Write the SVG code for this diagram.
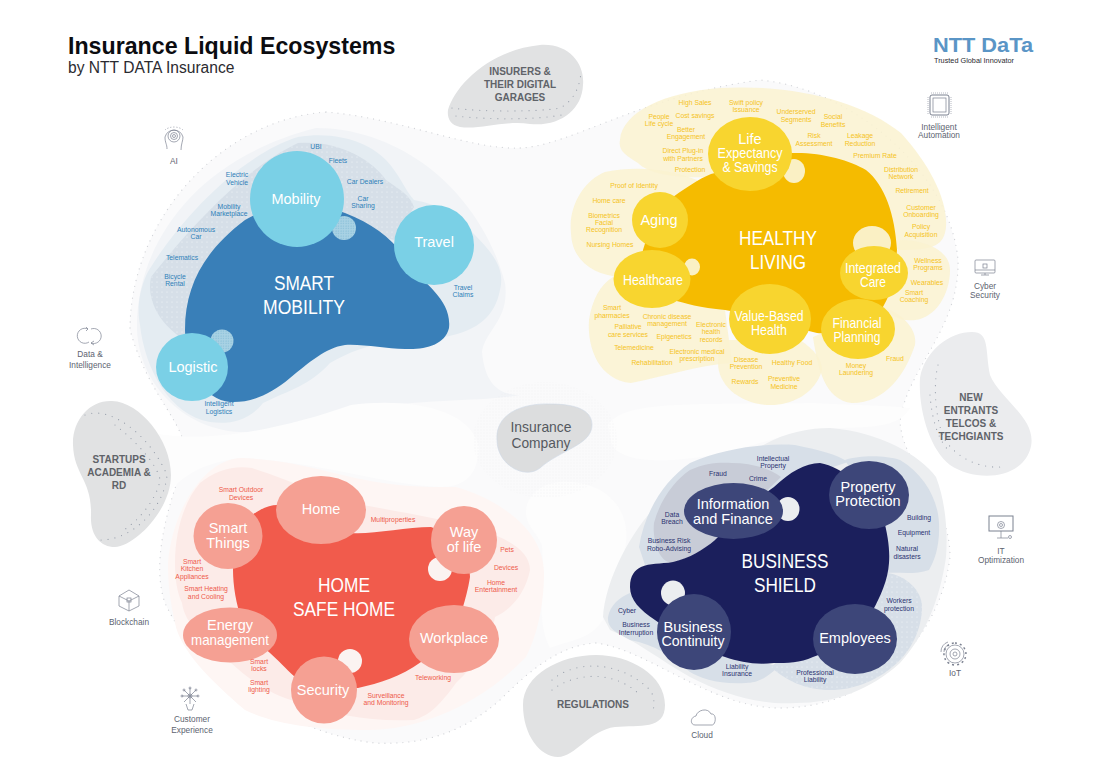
<svg xmlns="http://www.w3.org/2000/svg" width="1100" height="778" viewBox="0 0 1100 778">
<style>
text{font-family:"Liberation Sans",Arial,sans-serif;text-anchor:middle}
.m{font-size:6.8px}
.bl{fill:#2f7fb8}.ye{fill:#f5c323}.re{fill:#ee5a4a}.na{fill:#2b3270}
.c{font-size:14.5px;fill:#fff}
.t{font-size:19.5px;fill:#fff}
.g{font-size:10px;font-weight:bold;fill:#5f6369}
.i{font-size:8.3px;fill:#5d6370}
.ic{fill:none;stroke:#7b8190;stroke-width:.7}
.dots{fill:none;stroke:#9aa1ad;stroke-width:1.2;stroke-linecap:round;stroke-dasharray:0 7}
.bub1{fill:#7ad0e6}.bub2{fill:#f8d52f}.bub3{fill:#f5a093}.bub4{fill:#3d4679}
.hy{fill:#faf2d0;fill-opacity:.85}
</style>
<defs>
<pattern id="pw" width="5" height="5" patternUnits="userSpaceOnUse"><circle cx="2" cy="2" r=".5" fill="#fff" fill-opacity=".8"/></pattern>
<pattern id="pb" width="2.5" height="2.5" patternUnits="userSpaceOnUse"><rect width="2.5" height="2.5" fill="#a9d2e4"/><circle cx="1" cy="1" r=".5" fill="#6fb0cf"/></pattern>
<pattern id="pg" width="3" height="3" patternUnits="userSpaceOnUse"><circle cx="1" cy="1" r=".45" fill="#e2e4e6"/></pattern>
</defs>

<g id="background">
<path fill="#fafafb" d="M326 112C400 118 470 150 520 148C570 146 640 96 760 80C850 88 950 170 958 260C960 330 905 370 900 423C905 470 950 500 950 557C940 640 870 708 780 708C710 708 650 650 596 643C560 645 530 670 500 700C460 735 420 745 375 743C300 735 200 680 165 603C150 560 170 500 186 457C185 420 150 400 130 330C130 220 220 120 326 112Z"/>
<path fill="none" stroke="#d3d5d9" stroke-width="1.3" stroke-linecap="round" stroke-dasharray="0 6" d="M326 112C400 118 470 150 520 148C570 146 640 96 760 80C850 88 950 170 958 260C960 330 905 370 900 423C905 470 950 500 950 557C940 640 870 708 780 708C710 708 650 650 596 643C560 645 530 670 500 700C460 735 420 745 375 743C300 735 200 680 165 603C150 560 170 500 186 457C185 420 150 400 130 330C130 220 220 120 326 112Z"/>
<path fill="#f2f4f7" d="M137 330C135 250 190 160 316 128C400 128 480 190 505 283C510 320 485 330 482 352C485 385 500 395 520 395C480 402 430 398 351 410C310 420 280 433 240 432C190 430 140 390 137 330Z"/>
<path fill="#fdfdfd" d="M150 432C200 445 280 430 351 405C400 398 470 405 479 447C478 475 465 487 440 487C380 484 320 462 242 458C200 462 175 480 165 500Z"/>
<path fill="#fdfdfd" d="M608 425C625 400 690 405 813 403C850 405 880 405 910 408C900 425 880 428 830 428C790 430 745 450 715 455C670 462 625 465 612 445Z"/>
<path fill="#fdfdfd" d="M526 510C530 480 570 475 600 490C625 505 632 530 622 560C612 585 608 600 603 620C590 640 570 640 550 648C535 620 545 580 542 545C535 530 525 525 526 510Z"/>
<ellipse cx="545" cy="440" rx="72" ry="58" fill="url(#pg)"/>
</g>

<g id="smart-mobility">
<path fill="#e4ecf2" d="M140 325C135 300 145 275 151 267C180 220 240 155 298 137C340 130 372 145 386 160C400 175 405 190 414 200C440 205 460 215 473 233C495 255 505 270 500 290C495 315 480 330 445 337C400 340 370 340 330 363C310 385 290 390 263 403C250 420 230 425 210 422C170 415 145 370 140 325Z"/>
<path fill="#d6dfe8" d="M151 277C180 240 240 170 298 143C340 140 372 160 386 180C400 190 410 195 414 207L394 240L300 215L210 265L185 340C160 325 146 300 151 277Z"/>
<path fill="url(#pw)" d="M151 277C180 240 240 170 298 143C340 140 372 160 386 180C400 190 410 195 414 207L394 240L300 215L210 265L185 340C160 325 146 300 151 277Z"/>
<path fill="#397fb8" d="M185 330C185 285 205 250 245 220C280 200 310 200 345 213C375 225 395 240 410 265C425 285 452 300 449 328C445 345 425 350 405 349C385 349 365 344 345 345C325 348 310 362 290 378C270 395 250 403 230 402C205 400 185 370 185 330Z"/>
<circle cx="344" cy="228" r="12" fill="url(#pb)"/>
<circle cx="222" cy="341" r="11.500" fill="url(#pb)"/>
<ellipse class="bub1" cx="297" cy="199" rx="47" ry="48"/>
<circle class="bub1" cx="434" cy="245" r="40"/>
<ellipse class="bub1" cx="192" cy="367" rx="36" ry="34"/>
<text class="c" x="296" y="204">Mobility</text>
<text class="c" x="434" y="247">Travel</text>
<text class="c" x="193" y="372">Logistic</text>
<text class="t" x="304" y="290" textLength="60" lengthAdjust="spacingAndGlyphs">SMART</text>
<text class="t" x="304" y="314" textLength="82" lengthAdjust="spacingAndGlyphs">MOBILITY</text>
<g id="mobility-labels">
<text class="m bl" x="316" y="149">UBI</text>
<text class="m bl" x="338" y="163">Fleets</text>
<text class="m bl" x="237" y="177">Electric</text><text class="m bl" x="237" y="185">Vehicle</text>
<text class="m bl" x="365" y="184">Car Dealers</text>
<text class="m bl" x="363" y="201">Car</text><text class="m bl" x="363" y="208">Sharing</text>
<text class="m bl" x="229" y="209">Mobility</text><text class="m bl" x="229" y="216">Marketplace</text>
<text class="m bl" x="196" y="232">Autonomous</text><text class="m bl" x="196" y="239">Car</text>
<text class="m bl" x="182" y="260">Telematics</text>
<text class="m bl" x="175" y="279">Bicycle</text><text class="m bl" x="175" y="286">Rental</text>
<text class="m bl" x="463" y="290">Travel</text><text class="m bl" x="463" y="297">Claims</text>
<text class="m bl" x="219" y="406">Intelligent</text><text class="m bl" x="219" y="414">Logistics</text>
</g>
</g>

<g id="healthy-living">
<path class="hy" d="M620 140C622 112 665 92 720 88C790 84 860 100 901 133C930 165 948 200 946 227C944 245 935 250 900 250L704 177C680 178 650 175 638 163C625 155 618 150 620 140Z"/>
<path class="hy" d="M571 233C568 205 585 180 605 172C640 165 670 170 697 180L700 230L620 277C595 275 572 262 571 233Z"/>
<path class="hy" d="M589 320C592 300 600 285 613 277L725 310L732 363C700 365 670 375 631 383C600 380 587 350 589 320Z"/>
<path class="hy" d="M720 340L800 340C815 350 822 360 822 370C815 395 790 405 771 405C740 405 718 385 718 363Z"/>
<path class="hy" d="M813 337L883 307C905 315 917 330 915 345C905 375 885 403 852 403C825 400 818 370 813 337Z"/>
<path class="hy" d="M900 240C925 240 950 250 950 270C950 295 935 318 915 320C900 322 890 315 883 307Z"/>
<path fill="#f5bb00" d="M643 250C650 225 660 210 673 197C690 185 705 175 715 173C745 160 770 153 792 153C820 152 850 160 866 170C885 185 895 215 897 250C895 280 890 295 883 307C860 320 840 335 817 333C785 325 755 315 725 310C700 308 685 303 673 300C650 290 640 270 643 250Z"/>
<ellipse cx="794" cy="171" rx="11" ry="12" fill="#faf0c4"/>
<ellipse cx="872" cy="243" rx="19" ry="17" fill="#faf0c4"/>
<ellipse cx="692" cy="267" rx="8" ry="8.500" fill="#faf0c4"/>
<ellipse class="bub2" cx="750" cy="154" rx="42" ry="37"/>
<ellipse class="bub2" cx="660" cy="220" rx="28" ry="28"/>
<ellipse class="bub2" cx="652" cy="279" rx="38.500" ry="29"/>
<ellipse class="bub2" cx="770" cy="319" rx="41" ry="35"/>
<ellipse class="bub2" cx="858" cy="329" rx="37" ry="30"/>
<ellipse class="bub2" cx="874" cy="273" rx="34" ry="27"/>
<text class="c" x="750" y="144">Life</text><text class="c" x="750" y="158" textLength="65" lengthAdjust="spacingAndGlyphs">Expectancy</text><text class="c" x="750" y="172" textLength="55" lengthAdjust="spacingAndGlyphs">&amp; Savings</text>
<text class="c" x="659" y="225">Aging</text>
<text class="c" x="653" y="285" textLength="60" lengthAdjust="spacingAndGlyphs">Healthcare</text>
<text class="c" x="769" y="321" textLength="69" lengthAdjust="spacingAndGlyphs">Value-Based</text><text class="c" x="769" y="335" textLength="36" lengthAdjust="spacingAndGlyphs">Health</text>
<text class="c" x="857" y="328" textLength="49" lengthAdjust="spacingAndGlyphs">Financial</text><text class="c" x="857" y="342" textLength="47" lengthAdjust="spacingAndGlyphs">Planning</text>
<text class="c" x="873" y="273" textLength="56" lengthAdjust="spacingAndGlyphs">Integrated</text><text class="c" x="873" y="287" textLength="26" lengthAdjust="spacingAndGlyphs">Care</text>
<text class="t" x="778" y="245" textLength="78" lengthAdjust="spacingAndGlyphs">HEALTHY</text>
<text class="t" x="778" y="269" textLength="56" lengthAdjust="spacingAndGlyphs">LIVING</text>
<g id="healthy-labels">
<text class="m ye" x="695" y="105">High Sales</text>
<text class="m ye" x="746" y="105">Swift policy</text><text class="m ye" x="746" y="112">Issuance</text>
<text class="m ye" x="659" y="119">People</text><text class="m ye" x="659" y="126">Life cycle</text>
<text class="m ye" x="695" y="118">Cost savings</text>
<text class="m ye" x="796" y="114">Underserved</text><text class="m ye" x="796" y="122">Segments</text>
<text class="m ye" x="833" y="119">Social</text><text class="m ye" x="833" y="127">Benefits</text>
<text class="m ye" x="686" y="132">Better</text><text class="m ye" x="686" y="139">Engagement</text>
<text class="m ye" x="814" y="138">Risk</text><text class="m ye" x="814" y="146">Assessment</text>
<text class="m ye" x="860" y="138">Leakage</text><text class="m ye" x="860" y="146">Reduction</text>
<text class="m ye" x="683" y="153">Direct Plug-in</text><text class="m ye" x="683" y="161">with Partners</text>
<text class="m ye" x="875" y="158">Premium Rate</text>
<text class="m ye" x="690" y="172">Protection</text>
<text class="m ye" x="901" y="172">Distribution</text><text class="m ye" x="901" y="179">Network</text>
<text class="m ye" x="634" y="188">Proof of Identity</text>
<text class="m ye" x="912" y="193">Retirement</text>
<text class="m ye" x="609" y="203">Home care</text>
<text class="m ye" x="921" y="210">Customer</text><text class="m ye" x="921" y="217">Onboarding</text>
<text class="m ye" x="604" y="218">Biometrics</text><text class="m ye" x="604" y="225">Facial</text><text class="m ye" x="604" y="232">Recognition</text>
<text class="m ye" x="921" y="229">Policy</text><text class="m ye" x="921" y="237">Acquisition</text>
<text class="m ye" x="610" y="247">Nursing Homes</text>
<text class="m ye" x="928" y="263">Wellness</text><text class="m ye" x="928" y="270">Programs</text>
<text class="m ye" x="927" y="285">Wearables</text>
<text class="m ye" x="914" y="295">Smart</text><text class="m ye" x="914" y="302">Coaching</text>
<text class="m ye" x="612" y="310">Smart</text><text class="m ye" x="612" y="318">pharmacies</text>
<text class="m ye" x="667" y="319">Chronic disease</text><text class="m ye" x="667" y="326">management</text>
<text class="m ye" x="628" y="329">Palliative</text><text class="m ye" x="628" y="337">care services</text>
<text class="m ye" x="711" y="327">Electronic</text><text class="m ye" x="711" y="334">health</text><text class="m ye" x="711" y="342">records</text>
<text class="m ye" x="674" y="339">Epigenetics</text>
<text class="m ye" x="634" y="350">Telemedicine</text>
<text class="m ye" x="697" y="354">Electronic medical</text><text class="m ye" x="697" y="361">prescription</text>
<text class="m ye" x="652" y="365">Rehabilitation</text>
<text class="m ye" x="746" y="362">Disease</text><text class="m ye" x="746" y="369">Prevention</text>
<text class="m ye" x="792" y="365">Healthy Food</text>
<text class="m ye" x="856" y="368">Money</text><text class="m ye" x="856" y="375">Laundering</text>
<text class="m ye" x="895" y="361">Fraud</text>
<text class="m ye" x="745" y="384">Rewards</text>
<text class="m ye" x="784" y="381">Preventive</text><text class="m ye" x="784" y="389">Medicine</text>
</g>
</g>

<g id="home-safe-home">
<path fill="#fef6f4" d="M168 563C172 510 205 458 242 458C290 460 320 470 351 477C400 488 430 487 456 487C500 500 544 530 544 573C544 610 535 640 526 657C480 705 420 730 368 730C320 730 275 725 245 710C210 680 180 650 175 623C170 600 168 585 168 563Z"/>
<path fill="#fcebe8" d="M175 563C175 530 185 500 200 483C215 470 235 465 252 468C290 480 320 495 351 503C390 510 420 515 450 522C490 530 530 545 530 570C525 595 510 610 495 617C490 645 475 665 456 683C440 705 430 715 414 720C370 722 335 715 298 702C270 695 250 680 231 663C205 640 185 625 182 603C176 590 175 575 175 563Z"/>
<path fill="#f15b4c" d="M233 570C235 545 245 525 252 515C262 508 270 505 277 505C305 515 325 528 351 533C370 535 405 527 431 527C455 535 470 555 470 577C468 590 465 600 463 607C450 635 440 650 421 662C400 677 380 683 358 688C335 690 315 685 295 677C285 668 278 660 270 653C255 640 247 630 242 620C236 605 233 585 233 570Z"/>
<ellipse cx="440" cy="569" rx="12" ry="12" fill="#fbf3f1"/>
<ellipse cx="350" cy="661" rx="12" ry="12" fill="#fbf3f1"/>
<ellipse class="bub3" cx="321" cy="510" rx="45" ry="34"/>
<ellipse class="bub3" cx="228" cy="536" rx="34.500" ry="33"/>
<ellipse class="bub3" cx="464" cy="540" rx="33" ry="34"/>
<ellipse class="bub3" cx="230" cy="635" rx="47" ry="27.500"/>
<ellipse class="bub3" cx="454" cy="639" rx="45" ry="34"/>
<ellipse class="bub3" cx="324" cy="690" rx="33" ry="33.500"/>
<text class="c" x="321" y="514">Home</text>
<text class="c" x="228" y="533">Smart</text><text class="c" x="228" y="548">Things</text>
<text class="c" x="464" y="537">Way</text><text class="c" x="464" y="552">of life</text>
<text class="c" x="230" y="630">Energy</text><text class="c" x="230" y="645" textLength="78" lengthAdjust="spacingAndGlyphs">management</text>
<text class="c" x="454" y="643">Workplace</text>
<text class="c" x="323" y="695">Security</text>
<text class="t" x="344" y="592" textLength="52" lengthAdjust="spacingAndGlyphs">HOME</text>
<text class="t" x="344" y="616" textLength="102" lengthAdjust="spacingAndGlyphs">SAFE HOME</text>
<g id="home-labels">
<text class="m re" x="241" y="492">Smart Outdoor</text><text class="m re" x="241" y="500">Devices</text>
<text class="m re" x="393" y="522">Multiproperties</text>
<text class="m re" x="507" y="552">Pets</text>
<text class="m re" x="506" y="570">Devices</text>
<text class="m re" x="192" y="564">Smart</text><text class="m re" x="192" y="571">Kitchen</text><text class="m re" x="192" y="579">Appliances</text>
<text class="m re" x="496" y="585">Home</text><text class="m re" x="496" y="592">Entertainment</text>
<text class="m re" x="206" y="591">Smart Heating</text><text class="m re" x="206" y="599">and Cooling</text>
<text class="m re" x="259" y="664">Smart</text><text class="m re" x="259" y="671">locks</text>
<text class="m re" x="259" y="685">Smart</text><text class="m re" x="259" y="692">lighting</text>
<text class="m re" x="433" y="680">Teleworking</text>
<text class="m re" x="386" y="698">Surveillance</text><text class="m re" x="386" y="705">and Monitoring</text>
</g>
</g>

<g id="business-shield">
<path fill="#eceef0" d="M603 617C605 585 625 540 655 507C690 470 725 455 760 447C785 432 810 428 830 428C880 432 920 455 936 477C945 500 948 530 946 557C940 600 925 635 900 663C870 690 835 703 796 703C760 705 725 695 690 677C660 660 635 640 610 630Z"/>
<path fill="#d7dfe8" d="M639 547C645 510 665 480 690 463C725 448 765 443 795 445C820 450 838 455 848 462L774 487L715 540L673 562L645 565Z"/>
<path fill="#c8ccd7" d="M654 523C660 500 675 480 690 470C705 463 720 462 732 463C750 463 770 468 781 477L715 540C700 553 685 560 673 562C660 565 652 540 654 523Z"/>
<path fill="#d7dfe8" d="M845 460C860 455 885 455 900 460C925 475 938 500 939 523C940 545 935 560 929 570C915 575 900 572 887 573L880 520Z"/>
<path fill="#d7dfe8" d="M887 573C905 575 922 590 922 607C922 630 910 650 900 660C880 680 855 690 830 690C805 690 785 680 771 667L850 600Z"/>
<path fill="#d7dfe8" d="M608 617C610 605 620 597 630 593L700 640L778 667C765 680 755 683 746 683C720 685 700 678 690 672C670 655 655 645 630 640C615 632 607 628 608 617Z"/>
<path fill="url(#pw)" d="M887 573C905 575 922 590 922 607C922 630 910 650 900 660C880 680 855 690 830 690C805 690 785 680 771 667L850 600Z"/>
<path fill="#1b1f5c" d="M630 587C630 575 635 570 641 567C650 563 660 564 673 562C690 558 703 550 715 540C735 520 755 500 774 487C790 472 805 463 820 463C845 468 870 490 883 517C888 535 890 550 889 563C888 580 880 597 873 610C860 630 835 650 813 657C800 663 787 663 774 663C755 665 740 662 725 657C700 650 675 635 655 620C640 610 630 600 630 587Z"/>
<ellipse cx="788" cy="509" rx="11.500" ry="12" fill="#eceef0"/>
<ellipse cx="673" cy="593" rx="12" ry="12.500" fill="#eceef0"/>
<ellipse class="bub4" cx="733.500" cy="511" rx="49.500" ry="28"/>
<ellipse class="bub4" cx="869" cy="495" rx="40" ry="34"/>
<ellipse class="bub4" cx="694" cy="632" rx="37" ry="38"/>
<ellipse class="bub4" cx="855" cy="639" rx="42" ry="35"/>
<text class="c" x="733" y="509">Information</text><text class="c" x="733" y="524">and Finance</text>
<text class="c" x="868" y="492">Property</text><text class="c" x="868" y="506">Protection</text>
<text class="c" x="693" y="632">Business</text><text class="c" x="693" y="646" textLength="63" lengthAdjust="spacingAndGlyphs">Continuity</text>
<text class="c" x="855" y="643">Employees</text>
<text class="t" x="785" y="568" textLength="87" lengthAdjust="spacingAndGlyphs">BUSINESS</text>
<text class="t" x="785" y="592" textLength="62" lengthAdjust="spacingAndGlyphs">SHIELD</text>
<g id="business-labels">
<text class="m na" x="773" y="461">Intellectual</text><text class="m na" x="773" y="468">Property</text>
<text class="m na" x="718" y="476">Fraud</text>
<text class="m na" x="758" y="481">Crime</text>
<text class="m na" x="672" y="517">Data</text><text class="m na" x="672" y="524">Breach</text>
<text class="m na" x="919" y="520">Building</text>
<text class="m na" x="914" y="535">Equipment</text>
<text class="m na" x="669" y="543">Business Risk</text><text class="m na" x="669" y="551">Robo-Advising</text>
<text class="m na" x="907" y="551">Natural</text><text class="m na" x="907" y="559">disasters</text>
<text class="m na" x="899" y="603">Workers</text><text class="m na" x="899" y="611">protection</text>
<text class="m na" x="627" y="613">Cyber</text>
<text class="m na" x="636" y="627">Business</text><text class="m na" x="636" y="635">Interruption</text>
<text class="m na" x="737" y="669">Liability</text><text class="m na" x="737" y="676">Insurance</text>
<text class="m na" x="815" y="675">Professional</text><text class="m na" x="815" y="682">Liability</text>
</g>
</g>

<g id="insurance-company">
<path fill="#dcddde" stroke="#cfd9e6" stroke-width=".6" d="M497 440C495 415 520 403 550 404C580 404 592 412 592 425C592 445 560 450 540 468C525 480 497 465 497 440Z"/>
<text x="541" y="432" font-size="14.500" fill="#55595f" textLength="61" lengthAdjust="spacingAndGlyphs">Insurance</text>
<text x="541" y="448" font-size="14.500" fill="#55595f" textLength="59" lengthAdjust="spacingAndGlyphs">Company</text>
</g>

<g id="insurers">
<path fill="#e1e2e3" d="M448 110C455 85 490 50 540 45C570 43 585 65 583 85C582 110 560 127 530 124C505 120 480 130 460 127C450 125 447 118 448 110Z"/>
<path class="dots" d="M452 108C480 112 540 112 560 108C575 100 580 85 581 72"/>
<path class="dots" d="M456 116C490 120 540 120 566 114"/>
<text class="g" x="520" y="75">INSURERS &amp;</text><text class="g" x="520" y="88">THEIR DIGITAL</text><text class="g" x="520" y="101">GARAGES</text>
</g>
<g id="startups">
<path fill="#e1e2e3" d="M112 401C90 400 72 420 73 445C74 475 92 480 91 515C90 535 100 547 115 547C135 546 171 510 171 475C171 440 140 402 112 401Z"/>
<path class="dots" d="M85 415C110 405 150 435 167 475C165 505 135 540 100 540"/>
<path class="dots" d="M115 425C135 440 158 465 160 480C157 500 135 525 120 532"/>
<text class="g" x="119" y="463">STARTUPS</text><text class="g" x="119" y="476">ACADEMIA &amp;</text><text class="g" x="119" y="489">RD</text>
</g>
<g id="new-entrants">
<path fill="#ebecee" d="M972 332C950 332 925 350 920 378C918 410 930 450 950 465C975 482 1020 480 1030 450C1040 420 1000 400 990 375C985 350 990 332 972 332Z"/>
<path class="dots" d="M938 365C933 385 935 420 945 440C955 455 975 468 1000 467"/>
<path class="dots" d="M930 395C932 420 938 440 950 452"/>
<text class="g" x="971" y="401">NEW</text><text class="g" x="971" y="414">ENTRANTS</text><text class="g" x="971" y="427">TELCOS &amp;</text><text class="g" x="971" y="440">TECHGIANTS</text>
</g>
<g id="regulations">
<path fill="#e1e2e3" d="M596 655C560 655 523 675 523 705C523 735 540 757 558 757C575 757 590 730 615 727C640 725 665 730 665 705C665 675 630 655 596 655Z"/>
<path class="dots" d="M552 680C575 660 620 660 650 690C654 695 655 705 653 710"/>
<path class="dots" d="M552 690C575 672 615 670 640 695"/>
<text class="g" x="593" y="708">REGULATIONS</text>
</g>

<g id="title">
<text x="68" y="54" font-size="23.200" font-weight="bold" fill="#0c0c10" style="text-anchor:start">Insurance Liquid Ecosystems</text>
<text x="68" y="73" font-size="15.600" fill="#2b2b30" style="text-anchor:start">by NTT DATA Insurance</text>
</g>
<g id="logo">
<text x="933" y="52" font-size="20" font-weight="bold" fill="#5a95c6" textLength="100" lengthAdjust="spacingAndGlyphs" style="text-anchor:start">NTT DaTa</text>
<text x="934" y="63" font-size="7.500" fill="#2b2b30" textLength="80" lengthAdjust="spacingAndGlyphs" style="text-anchor:start">Trusted Global Innovator</text>
</g>

<g id="icon-ai">
<g class="ic"><path d="M167 149C167 144 165 143 165 137A9.500 10 0 0 1 183 137C183 141 181 144 181 150"/><circle cx="174" cy="136" r="6"/><circle cx="174" cy="136" r="3.500"/><circle cx="174" cy="136" r="1.500"/><path stroke-dasharray="1 2" d="M165 130A11 7 0 0 1 183 130"/></g>
<text class="i" x="174" y="164">AI</text>
</g>
<g id="icon-automation">
<g class="ic"><rect x="930" y="95" width="19" height="20" rx="2" stroke-width="1"/><rect x="933" y="98" width="13" height="14"/><path stroke-dasharray=".8 1.200" d="M931 93H948M931 117H948M928 97V114M951 97V114"/></g>
<text class="i" x="939" y="130">Intelligent</text><text class="i" x="939" y="138">Automation</text>
</g>
<g id="icon-data">
<g class="ic"><path d="M88 329A7.500 7.500 0 1 0 89 342M91 343A7.500 7.500 0 1 0 91 329"/><path d="M86 327L88 329L86 331M94 341L91 343L94 345"/></g>
<text class="i" x="90" y="357">Data &amp;</text><text class="i" x="90" y="368">Intelligence</text>
</g>
<g id="icon-cyber">
<g class="ic"><rect x="975" y="260" width="20" height="13" rx="1"/><path d="M975 270H995M985 273V275M981 275H989"/><rect x="983" y="264" width="4" height="4"/></g>
<text class="i" x="985" y="289">Cyber</text><text class="i" x="985" y="297.500">Security</text>
</g>
<g id="icon-blockchain">
<g class="ic"><path d="M129 590L139 596V606L129 611L119 606V596Z"/><path d="M119 596L129 601L139 596M129 601V611"/><rect x="127" y="598" width="4" height="4"/></g>
<text class="i" x="129" y="625">Blockchain</text>
</g>
<g id="icon-customer">
<g class="ic"><circle cx="190" cy="696" r="2"/><path d="M190 688V704M182 696H198M184 690L196 702M196 690L184 702"/><circle cx="190" cy="688" r="1"/><circle cx="182" cy="696" r="1"/><circle cx="198" cy="696" r="1"/><circle cx="184" cy="690" r="1"/><circle cx="196" cy="690" r="1"/><path d="M186 704L188 710H192L194 704"/></g>
<text class="i" x="192" y="722">Customer</text><text class="i" x="192" y="733">Experience</text>
</g>
<g id="icon-it">
<g class="ic"><rect x="989" y="516" width="24" height="15" stroke-width="1"/><circle cx="1001" cy="525" r="3.500"/><circle cx="1001" cy="525" r="1.500"/><path d="M1001 531V538M997 538H1008"/><circle cx="1010" cy="537" r="1.500"/></g>
<text class="i" x="1001" y="554">IT</text><text class="i" x="1001" y="563">Optimization</text>
</g>
<g id="icon-iot">
<g class="ic"><circle cx="955" cy="654" r="9"/><circle cx="955" cy="654" r="5"/><circle cx="955" cy="654" r="2"/><path stroke-dasharray="2 3" stroke-width="1.500" d="M955 643A11 11 0 1 1 954.900 643"/><path d="M941 652A10 10 0 0 1 948 642M944 652A7 7 0 0 1 949 645"/></g>
<text class="i" x="955" y="676">IoT</text>
</g>
<g id="icon-cloud">
<path class="ic" stroke-width=".9" d="M695 725C690 725 690 717 696 716C697 710 708 707 711 714C717 713 716 725 712 725Z"/>
<text class="i" x="702" y="738">Cloud</text>
</g>
</svg>
